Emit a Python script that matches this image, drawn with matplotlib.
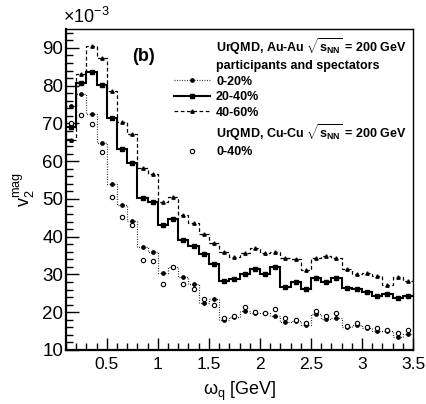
import numpy as np
import matplotlib
matplotlib.use("Agg")
import matplotlib.pyplot as plt
from matplotlib.lines import Line2D
from matplotlib.ticker import MultipleLocator

plt.rcParams['font.family'] = ['Liberation Sans', 'DejaVu Sans']
plt.rcParams['mathtext.fontset'] = 'custom'
plt.rcParams['mathtext.rm'] = 'Liberation Sans'
plt.rcParams['mathtext.it'] = 'Liberation Sans'
plt.rcParams['mathtext.bf'] = 'Liberation Sans:bold'

# bin edges of omega_q [GeV]
edges = np.round(np.linspace(0.1, 3.5, 35), 2)

# v2^mag (x 10^-3)
au_0_20 = [74.5, 77.7, 72.4, 64.9, 53.9, 48.3, 44.2, 37.4, 35.9, 30.5, 32.1, 29.2,
           27.5, 22.4, 23.4, 18.0, 18.8, 20.4, 19.9, 19.9, 19.0, 17.3, 17.8, 16.6,
           19.5, 18.2, 18.4, 16.2, 16.6, 15.7, 15.1, 15.1, 13.5, 14.2]
au_20_40 = [69.0, 80.7, 83.5, 80.1, 71.4, 63.1, 59.6, 50.3, 49.2, 43.1, 44.6, 39.2,
            37.6, 35.3, 32.9, 28.2, 28.7, 30.1, 31.4, 30.1, 31.9, 26.6, 28.0, 26.1,
            29.0, 28.1, 29.0, 26.5, 26.2, 25.4, 24.3, 24.7, 23.9, 24.4]
au_40_60 = [65.6, 83.0, 90.6, 87.3, 78.6, 70.3, 67.1, 58.3, 56.7, 49.3, 50.4, 45.8,
            43.5, 40.7, 38.3, 35.9, 34.7, 35.6, 36.9, 35.6, 36.0, 34.4, 34.0, 31.2,
            34.3, 34.9, 34.4, 31.4, 30.1, 30.5, 29.7, 27.2, 29.3, 28.3]
cu_0_40 = [70.0, 72.3, 69.9, 62.4, 50.6, 45.1, 43.0, 33.8, 33.5, 27.5, 32.0, 27.5,
           26.1, 23.6, 21.8, 18.4, 18.9, 21.3, 20.0, 19.9, 20.9, 18.4, 17.9, 17.2,
           20.4, 18.9, 19.7, 16.3, 17.2, 16.2, 15.7, 15.2, 14.4, 15.3]

centers = 0.5 * (edges[:-1] + edges[1:])

fig = plt.figure(figsize=(4.26, 4.04), dpi=100)
ax = fig.add_axes([66/426, 54/404, 347/426, 321/404])

dot_ls = (0, (0.8, 1.2))
dash_ls = (0, (3, 2))

ax.stairs(au_0_20, edges, color='#333333', linestyle=dot_ls, linewidth=0.9, baseline=None)
ax.plot(centers, au_0_20, linestyle='none', marker='o', markersize=2.4, color='black')

ax.stairs(au_20_40, edges, color='black', linestyle='-', linewidth=1.5, baseline=None)
ax.plot(centers, au_20_40, linestyle='none', marker='s', markersize=2.4, color='black')

ax.stairs(au_40_60, edges, color='black', linestyle=dash_ls, linewidth=0.9, baseline=None)
ax.plot(centers, au_40_60, linestyle='none', marker='^', markersize=2.4, color='black')

ax.plot(centers, cu_0_40, linestyle='none', marker='o', markersize=3.1,
        markerfacecolor='white', markeredgecolor='black', markeredgewidth=0.8)

ax.set_xlim(0.1, 3.5)
ax.set_ylim(10, 95)
ax.xaxis.set_major_locator(MultipleLocator(0.5))
ax.xaxis.set_minor_locator(MultipleLocator(0.1))
ax.yaxis.set_major_locator(MultipleLocator(10))
ax.yaxis.set_minor_locator(MultipleLocator(2))
ax.tick_params(which='both', direction='in', top=False, right=False)
ax.tick_params(which='major', length=9, width=1.0)
ax.tick_params(which='minor', length=5, width=1.0)
ax.tick_params(axis='y', labelsize=13.5, pad=2)
ax.tick_params(axis='x', labelsize=12.5, pad=5)
ax.set_xticks([0.5, 1, 1.5, 2, 2.5, 3, 3.5])
ax.set_xticklabels(['0.5', '1', '1.5', '2', '2.5', '3', '3.5'])
for s in ax.spines.values():
    s.set_linewidth(1.0)
ax.spines['left'].set_linewidth(1.6)
ax.spines['bottom'].set_linewidth(1.6)

ax.set_xlabel(r'$\omega_{\mathrm{q}}$ [GeV]', fontsize=13, labelpad=6)
ax.set_ylabel(r'v$_{2}^{\mathrm{mag}}$', fontsize=13, labelpad=4)
fig.text(63/426, 1 - 27/404, r'$\times$10$^{-3}$', fontsize=13, ha='left', va='bottom')

ax.text(0.19, 0.915, '(b)', transform=ax.transAxes, fontsize=13, fontweight='bold',
        ha='left', va='center')

blank = Line2D([], [], linestyle='none')
h1 = Line2D([], [], color='#333333', linestyle=dot_ls, linewidth=0.9, marker='o',
            markersize=2.4, markerfacecolor='black', markeredgecolor='black')
h2 = Line2D([], [], color='black', linestyle='-', linewidth=1.5, marker='s', markersize=2.4)
h3 = Line2D([], [], color='black', linestyle=dash_ls, linewidth=0.9, marker='^', markersize=2.4)
h4 = Line2D([], [], linestyle='none', marker='o', markersize=3.1, markerfacecolor='white',
            markeredgecolor='black', markeredgewidth=0.8)
labels = [r'UrQMD, Au-Au $\sqrt{\mathbf{s}_{\mathbf{NN}}}$ = 200 GeV',
          'participants and spectators', '0-20%', '20-40%', '40-60%',
          r'UrQMD, Cu-Cu $\sqrt{\mathbf{s}_{\mathbf{NN}}}$ = 200 GeV', '0-40%']
leg = ax.legend([blank, blank, h1, h2, h3, blank, h4], labels, loc='upper left',
                bbox_to_anchor=(0.31, 0.977), frameon=False,
                prop={'size': 9, 'weight': 'bold'}, handlelength=2.9, handletextpad=0.5,
                labelspacing=0.27, borderaxespad=0, borderpad=0)

fig.savefig('out.png', dpi=100)
